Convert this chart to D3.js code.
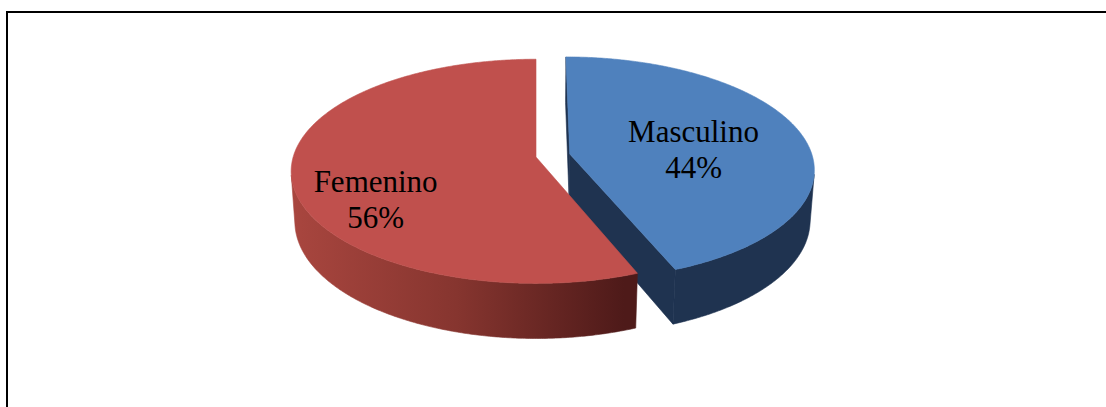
<!DOCTYPE html>
<html>
<head>
<meta charset="utf-8">
<script src="https://cdn.jsdelivr.net/npm/d3@7/dist/d3.min.js"></script>
<style>
  html, body { margin: 0; padding: 0; background: #fff; }
  svg { display: block; }
</style>
</head>
<body>
<script>
// Distribución por sexo
const categories = ["Masculino", "Femenino"];
const values = [44, 56];

const W = 1106, H = 407;

// Colours for the top face and the side walls of each slice
const topColors = ["#4F81BD", "#C0504D"];
const sideColors = ["#1F3350", "url(#redSide)"];
// How far each slice is pulled away from the centre (in units of the radius)
const explodeBy = [0.142, 0];
// Where each label sits on the top face: [angle in degrees, fraction of radius]
const labelSpots = [[96.4, 0.51], [233.9, 0.77]];

// Simple perspective camera looking down at a disc of radius 1
const tilt = 27 * Math.PI / 180;
const camDist = 6.98;
const focal = 1695;
const origin = [536, 157];
const thickness = 0.235;
const ct = Math.cos(tilt), st = Math.sin(tilt);
const camera = [0, camDist * st, -camDist * ct];

function project(X, Y, Z) {
  const v = Y * ct + Z * st;
  const w = Z * ct - Y * st;
  const k = focal / (camDist + w);
  return [origin[0] + X * k, origin[1] - v * k];
}

const svg = d3.select("body").append("svg")
  .attr("width", W).attr("height", H);

const defs = svg.append("defs");
const grad = defs.append("linearGradient")
  .attr("id", "redSide")
  .attr("gradientUnits", "userSpaceOnUse")
  .attr("x1", 290).attr("y1", 0).attr("x2", 624).attr("y2", 0);
grad.append("stop").attr("offset", 0).attr("stop-color", "#A9463F");
grad.append("stop").attr("offset", 0.5).attr("stop-color", "#86352F");
grad.append("stop").attr("offset", 1).attr("stop-color", "#4E1A19");

// Chart frame
svg.append("rect")
  .attr("x", 7).attr("y", 12)
  .attr("width", 1300).attr("height", 600)
  .attr("fill", "none").attr("stroke", "#000").attr("stroke-width", 2);

const pie = d3.pie().sort(null).startAngle(0).endAngle(2 * Math.PI).value(d => d);
const slices = pie(values);

const line = d3.line();
const step = Math.PI / 360;

function angles(a0, a1) {
  const n = Math.max(2, Math.ceil((a1 - a0) / step));
  return d3.range(n + 1).map(i => a0 + (a1 - a0) * i / n);
}

function sliceGeometry(s, i) {
  const mid = (s.startAngle + s.endAngle) / 2;
  const ox = Math.sin(mid) * explodeBy[i];
  const oz = Math.cos(mid) * explodeBy[i];
  const rim = (a, Y) => project(ox + Math.sin(a), Y, oz + Math.cos(a));
  const apex = Y => project(ox, Y, oz);
  const faces = [];

  // Flat cut faces along the two radii
  [[s.startAngle, -1], [s.endAngle, 1]].forEach(([a, sign]) => {
    const n = [sign * Math.cos(a), 0, -sign * Math.sin(a)];
    const dot = n[0] * (camera[0] - ox) + n[1] * camera[1] + n[2] * (camera[2] - oz);
    if (dot > 1e-6) {
      faces.push([apex(0), rim(a, 0), rim(a, -thickness), apex(-thickness)]);
    }
  });

  // Curved outer wall, only the parts facing the camera
  const as = angles(s.startAngle, s.endAngle);
  let run = [];
  const flush = () => {
    if (run.length > 1) {
      const topEdge = run.map(a => rim(a, 0));
      const botEdge = run.map(a => rim(a, -thickness)).reverse();
      faces.push(topEdge.concat(botEdge));
    }
    run = [];
  };
  for (let j = 0; j < as.length - 1; j++) {
    const am = (as[j] + as[j + 1]) / 2;
    const px = ox + Math.sin(am), pz = oz + Math.cos(am);
    const dot = Math.sin(am) * (camera[0] - px) + Math.cos(am) * (camera[2] - pz);
    if (dot > 0) {
      if (run.length === 0) run.push(as[j]);
      run.push(as[j + 1]);
    } else {
      flush();
    }
  }
  flush();

  const top = [apex(0)].concat(as.map(a => rim(a, 0)));
  return { faces, top, mid, ox, oz };
}

// Paint the farther slices first
const order = slices.map((s, i) => i)
  .sort((a, b) => Math.cos((slices[b].startAngle + slices[b].endAngle) / 2) -
                  Math.cos((slices[a].startAngle + slices[a].endAngle) / 2));

const geoms = slices.map(sliceGeometry);

order.forEach(i => {
  const g = svg.append("g").attr("class", "slice");
  geoms[i].faces.forEach(f => {
    g.append("path")
      .attr("d", line(f) + "Z")
      .attr("fill", sideColors[i])
      .attr("stroke", sideColors[i])
      .attr("stroke-width", 0.6)
      .attr("stroke-linejoin", "round");
  });
  g.append("path")
    .attr("d", line(geoms[i].top) + "Z")
    .attr("fill", topColors[i])
    .attr("stroke", topColors[i])
    .attr("stroke-width", 0.6)
    .attr("stroke-linejoin", "round");
});

// Labels on the top faces
slices.forEach((s, i) => {
  const a = labelSpots[i][0] * Math.PI / 180, r = labelSpots[i][1];
  const p = project(geoms[i].ox + Math.sin(a) * r, 0, geoms[i].oz + Math.cos(a) * r);
  const t = svg.append("text")
    .attr("text-anchor", "middle")
    .attr("font-family", "'Liberation Serif', 'Times New Roman', serif")
    .attr("font-size", 31)
    .attr("fill", "#000");
  t.append("tspan").attr("x", p[0]).attr("y", p[1] - 18).text(categories[i]);
  t.append("tspan").attr("x", p[0]).attr("y", p[1] + 18).text(values[i] + "%");
});
</script>
</body>
</html>
